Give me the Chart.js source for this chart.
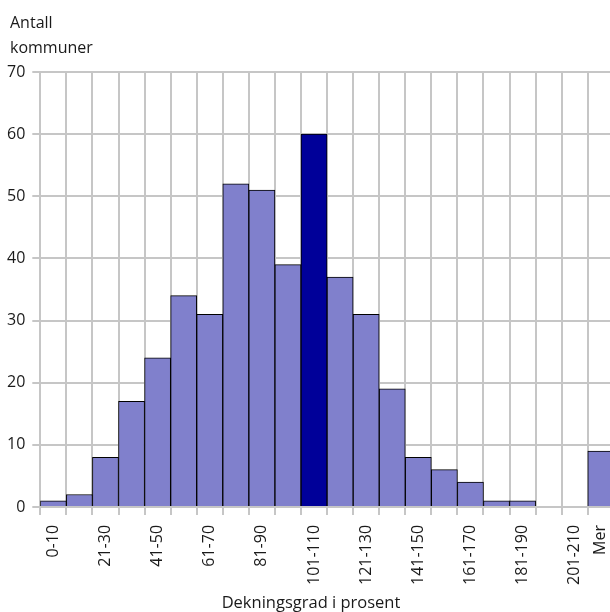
<!DOCTYPE html>
<html lang="no">
<head>
  <meta charset="UTF-8" />
  <title>Dekningsgrad</title>
  <script src="https://cdn.jsdelivr.net/npm/chart.js"></script>
  <style>
    html, body { margin: 0; padding: 0; background: #ffffff; overflow: hidden; }
    #wrap { width: 630px; height: 612px; }
  </style>
</head>
<body>
  <div id="wrap"><canvas id="chart"></canvas></div>
  <script>
    // kategorier (dekningsgrad i prosent)
    const categories = [
      '0-10', '11-20', '21-30', '31-40', '41-50', '51-60', '61-70', '71-80',
      '81-90', '91-100', '101-110', '111-120', '121-130', '131-140', '141-150',
      '151-160', '161-170', '171-180', '181-190', '191-200', '201-210', 'Mer'
    ];
    // antall kommuner
    const counts = [1, 2, 8, 17, 24, 34, 31, 52, 51, 39, 60, 37, 31, 19, 8, 6, 4, 1, 1, 0, 0, 9];
    const highlight = '101-110';
    const yTicks = [0, 10, 20, 30, 40, 50, 60, 70];
    const yTitle = ['Antall', 'kommuner'];
    const xTitle = 'Dekningsgrad i prosent';

    const lightBar = '#8080cc';
    const darkBar = '#000099';
    const gridCol = '#c6c6c6';
    const textCol = '#1a1a1a';
    const font = "'Open Sans', 'Noto Sans', sans-serif";

    // aksetitler: y øverst til venstre, x nederst
    const titlesPlugin = {
      id: 'titles',
      afterDraw(chart) {
        const c = chart.ctx;
        c.save();
        c.fillStyle = textCol;
        c.font = '16px ' + font;
        c.textBaseline = 'alphabetic';
        yTitle.forEach((t, i) => c.fillText(t, 10, 28 + i * 25));
        c.font = '16.5px ' + font;
        c.textAlign = 'center';
        c.fillText(xTitle, 311, 608);
        c.restore();
      }
    };

    new Chart(document.getElementById('chart'), {
      type: 'bar',
      data: {
        labels: categories,
        datasets: [{
          data: counts.map(v => (v === 0 ? null : v)),
          backgroundColor: categories.map(c => c === highlight ? darkBar : lightBar),
          borderColor: '#000000',
          borderWidth: 1,
          barPercentage: 1,
          categoryPercentage: 1
        }]
      },
      plugins: [titlesPlugin],
      options: {
        responsive: true,
        maintainAspectRatio: false,
        animation: false,
        layout: { padding: { left: 0, right: 0, top: 72, bottom: 17 } },
        plugins: {
          legend: { display: false },
          tooltip: { enabled: false },
          title: { display: false }
        },
        scales: {
          x: {
            grid: { color: gridCol, lineWidth: 2, tickLength: 8, offset: true },
            border: { color: gridCol, width: 2 },
            ticks: {
              autoSkip: false,
              maxRotation: 90,
              minRotation: 90,
              color: textCol,
              font: { family: font, size: 16 },
              padding: 10,
              callback: function (val, i) {
                return (i % 2 === 0 || i === categories.length - 1) ? categories[i] : '';
              }
            }
          },
          y: {
            min: 0,
            max: 70,
            afterBuildTicks: axis => { axis.ticks = yTicks.map(v => ({ value: v })); },
            grid: { color: gridCol, lineWidth: 2, tickLength: 8 },
            border: { color: gridCol, width: 2 },
            ticks: {
              color: textCol,
              font: { family: font, size: 16 },
              padding: 7
            }
          }
        }
      }
    });
  </script>
</body>
</html>
